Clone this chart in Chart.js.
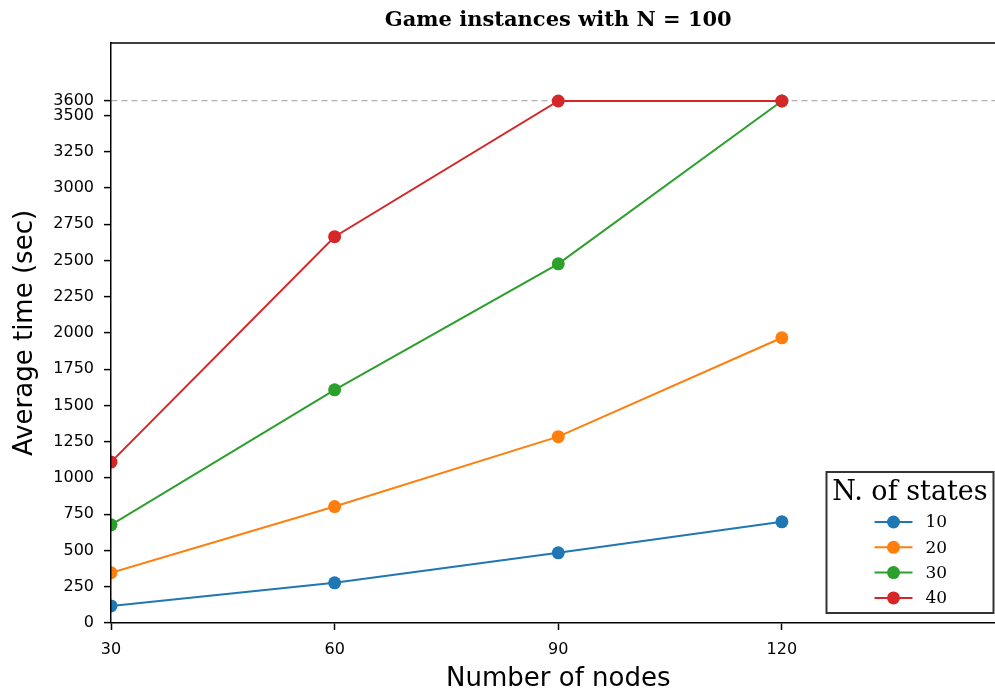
<!DOCTYPE html>
<html>
<head>
<meta charset="utf-8">
<script src="https://cdn.jsdelivr.net/npm/chart.js@4"></script>
<style>
  html, body { margin: 0; padding: 0; background: #fff; overflow: hidden; }
  #wrap { width: 995px; height: 695px; overflow: hidden; }
</style>
</head>
<body>
<div id="wrap"><canvas id="chart" width="1012" height="695"></canvas></div>
<script>
// datos
const nodes = [30, 60, 90, 120];
const states10 = [118, 277, 484, 698];
const states20 = [347, 803, 1285, 1967];
const states30 = [677, 1608, 2477, 3600];
const states40 = [1110, 2664, 3600, 3600];
const seriesLabels = ['10', '20', '30', '40'];
const seriesColors = ['#1f77b4', '#ff7f0e', '#2ca02c', '#d62728'];
const xTicks = [30, 60, 90, 120];
const yTicks = [0, 250, 500, 750, 1000, 1250, 1500, 1750, 2000, 2250, 2500, 2750, 3000, 3250, 3500, 3600];
const timeLimit = 3600;

const allSeries = [states10, states20, states30, states40];

const datasets = allSeries.map((vals, i) => ({
    label: seriesLabels[i],
    data: vals.map((v, j) => ({ x: nodes[j], y: v })),
    borderColor: seriesColors[i],
    backgroundColor: seriesColors[i],
    borderWidth: 2,
    pointRadius: 6.5,
    pointHoverRadius: 6.5,
    pointBorderWidth: 0,
    tension: 0,
    order: allSeries.length - i
}));

// título centrado sobre el área del gráfico, línea superior y leyenda interior
const decorPlugin = {
    id: 'decor',
    afterDraw(chart) {
        const ctx = chart.ctx;
        const area = chart.chartArea;
        ctx.save();

        // spine superior
        ctx.strokeStyle = '#000';
        ctx.lineWidth = 1.5;
        ctx.beginPath();
        ctx.moveTo(area.left - 0.75, area.top);
        ctx.lineTo(area.right, area.top);
        ctx.stroke();

        // título
        ctx.fillStyle = '#000';
        ctx.font = 'bold 21px "DejaVu Serif"';
        ctx.textAlign = 'center';
        ctx.textBaseline = 'middle';
        ctx.fillText('Game instances with N = 100', (area.left + area.right) / 2, 21);

        // leyenda
        const boxW = 167, boxH = 141;
        const bx = area.right - 12 - boxW;
        const by = area.bottom - 10 - boxH;
        ctx.fillStyle = '#fff';
        ctx.fillRect(bx, by, boxW, boxH);
        ctx.strokeStyle = '#333';
        ctx.lineWidth = 2;
        ctx.strokeRect(bx, by, boxW, boxH);

        ctx.fillStyle = '#000';
        ctx.font = '27px "DejaVu Serif"';
        ctx.textAlign = 'center';
        ctx.fillText('N. of states', bx + boxW / 2, by + 21);

        ctx.font = '17px "DejaVu Serif"';
        ctx.textAlign = 'left';
        chart.data.datasets.forEach((ds, i) => {
            const rowY = by + 50 + i * 25.3;
            const lx = bx + 48;
            ctx.strokeStyle = ds.borderColor;
            ctx.lineWidth = 2;
            ctx.beginPath();
            ctx.moveTo(lx, rowY);
            ctx.lineTo(lx + 38, rowY);
            ctx.stroke();
            ctx.fillStyle = ds.backgroundColor;
            ctx.beginPath();
            ctx.arc(lx + 19, rowY, 6.5, 0, Math.PI * 2);
            ctx.fill();
            ctx.fillStyle = '#000';
            ctx.fillText(ds.label, lx + 51, rowY + 1);
        });
        ctx.restore();
    }
};

new Chart(document.getElementById('chart'), {
    type: 'line',
    data: { datasets: datasets },
    plugins: [decorPlugin],
    options: {
        responsive: false,
        animation: false,
        layout: { padding: { top: 43, right: 0, left: 0, bottom: 0 } },
        plugins: {
            legend: { display: false },
            title: { display: false },
            tooltip: { enabled: false }
        },
        scales: {
            x: {
                type: 'linear',
                min: 30,
                max: 150,
                afterBuildTicks: scale => { scale.ticks = xTicks.map(v => ({ value: v })); },
                afterFit: scale => {
                    scale.height = 72;
                    scale.paddingLeft = 0;
                    scale.paddingRight = 0;
                },
                ticks: {
                    autoSkip: false,
                    maxRotation: 0,
                    color: '#000',
                    padding: 10,
                    font: { family: 'DejaVu Sans', size: 16 },
                    callback: v => String(v)
                },
                grid: {
                    drawOnChartArea: false,
                    tickColor: '#000',
                    tickLength: 7,
                    tickWidth: 1.5
                },
                border: { display: true, color: '#000', width: 1.5, z: 1 },
                title: {
                    display: true,
                    text: 'Number of nodes',
                    color: '#000',
                    padding: { top: 0, bottom: 0 },
                    font: { family: 'DejaVu Sans', size: 26 }
                }
            },
            y: {
                type: 'linear',
                min: 0,
                max: 4000,
                afterBuildTicks: scale => { scale.ticks = yTicks.map(v => ({ value: v })); },
                afterFit: scale => {
                    scale.width = 111;
                    scale.paddingTop = 0;
                    scale.paddingBottom = 0;
                },
                ticks: {
                    autoSkip: false,
                    color: '#000',
                    padding: 10,
                    font: { family: 'DejaVu Sans', size: 16 },
                    callback: v => String(v)
                },
                grid: {
                    color: ctx => (ctx.tick && ctx.tick.value === timeLimit) ? '#b0b0b0' : 'rgba(0,0,0,0)',
                    lineWidth: 1.2,
                    tickColor: '#000',
                    tickLength: 7,
                    tickWidth: 1.5,
                    tickBorderDash: []
                },
                border: { display: true, color: '#000', width: 1.5, dash: [6, 4], z: 1 },
                title: {
                    display: true,
                    text: 'Average time (sec)',
                    color: '#000',
                    padding: { top: 10, bottom: 0 },
                    font: { family: 'DejaVu Sans', size: 26 }
                }
            }
        }
    }
});
</script>
</body>
</html>
